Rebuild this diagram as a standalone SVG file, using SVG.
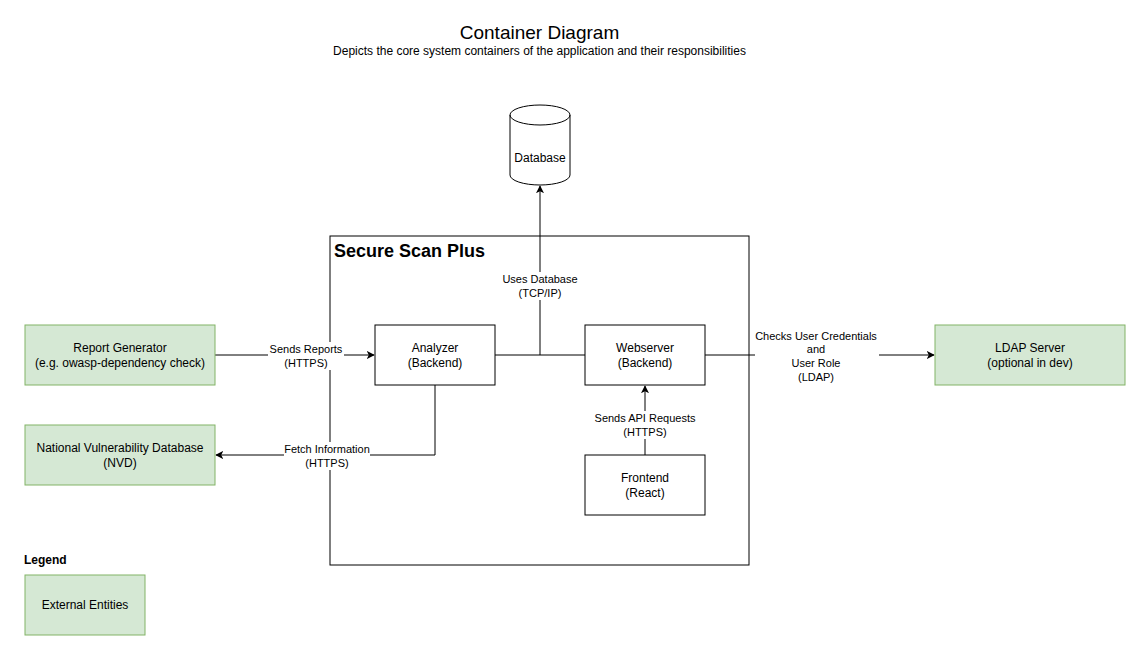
<svg xmlns="http://www.w3.org/2000/svg" width="1141" height="651" viewBox="0 0 1141 651">
<style>
text{font-family:"Liberation Sans",Arial,sans-serif;fill:#000}
.n{font-size:12px;text-anchor:middle}
.l{font-size:11px;text-anchor:middle}
.box{fill:#fff;stroke:#000;stroke-width:1}
.ext{fill:#d5e8d4;stroke:#82b366;stroke-width:1}
.e{fill:none;stroke:#000;stroke-width:1}
.bg{fill:#fff}
</style>
<defs>
<marker id="arr" viewBox="0 0 10 10" refX="9" refY="5" markerWidth="8" markerHeight="8" markerUnits="userSpaceOnUse" orient="auto">
<path d="M0,0 L10,5 L0,10 L2.5,5 Z" fill="#000"/>
</marker>
</defs>
<rect width="1141" height="651" fill="#fff"/>
<g id="title">
<text x="539.5" y="39" style="font-size:19px;text-anchor:middle">Container Diagram</text>
<text x="539.5" y="55" style="font-size:12px;text-anchor:middle">Depicts the core system containers of the application and their responsibilities</text>
</g>
<g id="system">
<rect x="330" y="236" width="419" height="329" class="box"/>
<text x="334" y="257" style="font-size:18px;font-weight:bold">Secure Scan Plus</text>
</g>
<g id="connectors">
<path class="e" d="M215,355 L374,355" marker-end="url(#arr)"/>
<path class="e" d="M435,385 L435,455 L216,455" marker-end="url(#arr)"/>
<path class="e" d="M495,355 L585,355"/>
<path class="e" d="M540,355 L540,186" marker-end="url(#arr)"/>
<path class="e" d="M705,355 L934,355" marker-end="url(#arr)"/>
<path class="e" d="M645,455 L645,386" marker-end="url(#arr)"/>
<rect class="bg" x="268" y="342" width="76" height="28"/>
<text class="l" x="306" y="353">Sends Reports</text>
<text class="l" x="306" y="367">(HTTPS)</text>
<rect class="bg" x="284" y="442" width="86" height="28"/>
<text class="l" x="327" y="453">Fetch Information</text>
<text class="l" x="327" y="467">(HTTPS)</text>
<rect class="bg" x="502" y="272" width="76" height="28"/>
<text class="l" x="540" y="283">Uses Database</text>
<text class="l" x="540" y="297">(TCP/IP)</text>
<rect class="bg" x="755" y="329" width="124" height="55"/>
<text class="l" x="816" y="340">Checks User Credentials</text>
<text class="l" x="816" y="353">and</text>
<text class="l" x="816" y="367">User Role</text>
<text class="l" x="816" y="381">(LDAP)</text>
<rect class="bg" x="591" y="411" width="108" height="28"/>
<text class="l" x="645" y="422">Sends API Requests</text>
<text class="l" x="645" y="436">(HTTPS)</text>
</g>
<g id="database">
<path class="box" d="M510,115 A30,10 0 0 1 570,115 L570,175 A30,10 0 0 1 510,175 Z"/>
<path class="e" d="M510,115 A30,10 0 0 0 570,115"/>
<text class="n" x="540" y="162">Database</text>
</g>
<g id="analyzer">
<rect x="375" y="325" width="120" height="60" class="box"/>
<text class="n" x="435" y="352">Analyzer</text>
<text class="n" x="435" y="367">(Backend)</text>
</g>
<g id="webserver">
<rect x="585" y="325" width="120" height="60" class="box"/>
<text class="n" x="645" y="352">Webserver</text>
<text class="n" x="645" y="367">(Backend)</text>
</g>
<g id="frontend">
<rect x="585" y="455" width="120" height="60" class="box"/>
<text class="n" x="645" y="482">Frontend</text>
<text class="n" x="645" y="497">(React)</text>
</g>
<g id="report-generator">
<rect x="25" y="325" width="190" height="60" class="ext"/>
<text class="n" x="120" y="352">Report Generator</text>
<text class="n" x="120" y="367">(e.g. owasp-dependency check)</text>
</g>
<g id="nvd">
<rect x="25" y="425" width="190" height="60" class="ext"/>
<text class="n" x="120" y="452">National Vulnerability Database</text>
<text class="n" x="120" y="467">(NVD)</text>
</g>
<g id="ldap">
<rect x="935" y="325" width="190" height="60" class="ext"/>
<text class="n" x="1030" y="352">LDAP Server</text>
<text class="n" x="1030" y="367">(optional in dev)</text>
</g>
<g id="legend">
<text x="24" y="564" style="font-size:12px;font-weight:bold">Legend</text>
<rect x="25" y="575" width="120" height="60" class="ext"/>
<text class="n" x="85" y="609">External Entities</text>
</g>
</svg>
